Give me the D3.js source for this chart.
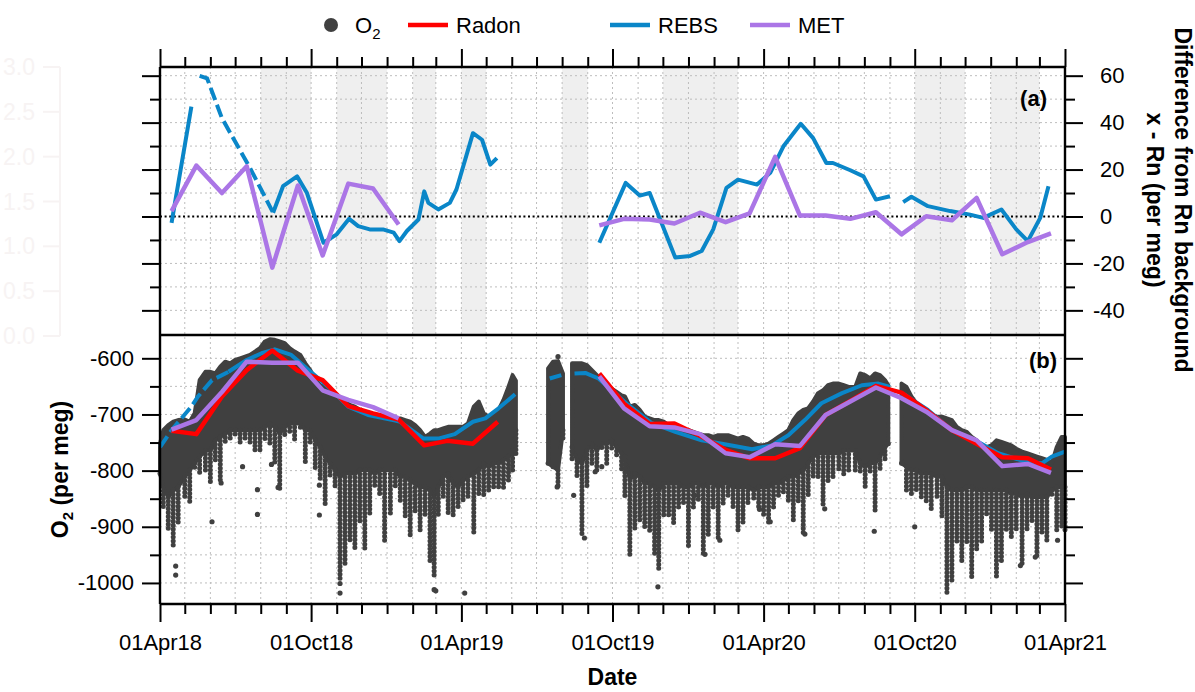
<!DOCTYPE html>
<html>
<head>
<meta charset="utf-8">
<script src="https://cdn.jsdelivr.net/npm/d3@7"></script>
<style>
  html, body { margin: 0; padding: 0; background: #fff; }
  body { font-family: "Liberation Sans", Arial, sans-serif; }
</style>
</head>
<body>
<svg id="chart" width="1195" height="692"></svg>
<script>
// ---- data ----
// monthly means, per meg
const radonO2 = [
  ["2018-04-15", -729], ["2018-05-15", -735], ["2018-06-15", -668], ["2018-07-15", -621],
  ["2018-08-15", -586], ["2018-09-15", -622], ["2018-10-15", -639], ["2018-11-15", -685],
  ["2018-12-15", -698], ["2019-01-15", -709], ["2019-02-15", -755], ["2019-03-15", -747],
  ["2019-04-15", -752], ["2019-05-15", -713], ["2019-07-01", null],
  ["2019-09-15", -627], ["2019-10-15", -681], ["2019-11-15", -717], ["2019-12-15", -716],
  ["2020-01-15", -738], ["2020-02-15", -763], ["2020-03-15", -778], ["2020-04-15", -778],
  ["2020-05-15", -760], ["2020-06-15", -701], ["2020-07-15", -676], ["2020-08-15", -649],
  ["2020-09-15", -661], ["2020-10-15", -692], ["2020-11-15", -728], ["2020-12-15", -752],
  ["2021-01-15", -776], ["2021-02-15", -778], ["2021-03-15", -798]
];
const metO2 = [
  ["2018-04-15", -727], ["2018-05-15", -710], ["2018-06-15", -660], ["2018-07-15", -606],
  ["2018-08-15", -608], ["2018-09-15", -608], ["2018-10-15", -657], ["2018-11-15", -674],
  ["2018-12-15", -687], ["2019-01-15", -707], ["2019-05-01", null],
  ["2019-09-15", -632], ["2019-10-15", -689], ["2019-11-15", -721], ["2019-12-15", -723],
  ["2020-01-15", -735], ["2020-02-15", -769], ["2020-03-15", -776], ["2020-04-15", -753],
  ["2020-05-15", -756], ["2020-06-15", -701], ["2020-07-15", -677], ["2020-08-15", -652],
  ["2020-09-15", -671], ["2020-10-15", -695], ["2020-11-15", -728], ["2020-12-15", -746],
  ["2021-01-15", -792], ["2021-02-15", -788], ["2021-03-15", -804]
];
const metDiff = [
  ["2018-04-15", 2.3], ["2018-05-15", 21.7], ["2018-06-15", 10], ["2018-07-15", 21.4],
  ["2018-08-15", -21.8], ["2018-09-15", 13.2], ["2018-10-15", -16.6], ["2018-11-15", 14],
  ["2018-12-15", 11.9], ["2019-01-15", -3.4], ["2019-05-01", null],
  ["2019-09-15", -3.8], ["2019-10-15", -1], ["2019-11-15", -1.3], ["2019-12-15", -3],
  ["2020-01-15", 1.6], ["2020-02-15", -2.4], ["2020-03-15", 1.3], ["2020-04-15", 25.4],
  ["2020-05-15", 0.4], ["2020-06-15", 0.4], ["2020-07-15", -1], ["2020-08-15", 1.8],
  ["2020-09-15", -7.6], ["2020-10-15", 0.1], ["2020-11-15", -1.6], ["2020-12-15", 7.9],
  ["2021-01-15", -16.1], ["2021-02-15", -10.9], ["2021-03-15", -7.2]
];
// smoothed REBS background
const rebsO2 = [
  ["2018-04-01", -758], ["2018-04-15", -728], ["2018-05-09", -686], ["2018-05-17", -668],
  ["2018-06-03", -639], ["2018-06-23", -624], ["2018-07-15", -603], ["2018-08-02", -591],
  ["2018-08-18", -584], ["2018-09-07", -594], ["2018-09-28", -621], ["2018-10-22", -651],
  ["2018-11-15", -686], ["2018-12-09", -701], ["2019-01-11", -711], ["2019-01-17", -713],
  ["2019-02-14", -743], ["2019-03-04", -743], ["2019-03-24", -735], ["2019-04-15", -713],
  ["2019-04-30", -707], ["2019-05-16", -689], ["2019-06-05", -664], ["2019-06-20", null],
  ["2019-07-17", -636], ["2019-07-31", -630], ["2019-08-08", null],
  ["2019-08-16", -627], ["2019-08-29", -626], ["2019-09-14", -636], ["2019-10-04", -662],
  ["2019-10-20", -683], ["2019-11-17", -715], ["2019-12-16", -731], ["2020-01-17", -746],
  ["2020-02-14", -753], ["2020-03-18", -762], ["2020-04-11", -755], ["2020-05-01", -737],
  ["2020-05-21", -710], ["2020-06-10", -680], ["2020-07-05", -662], ["2020-07-29", -648],
  ["2020-08-18", -645], ["2020-09-01", -651], ["2020-09-09", null], ["2020-09-19", -665],
  ["2020-10-17", -692], ["2020-11-15", -728], ["2020-12-17", -749], ["2021-01-10", -769],
  ["2021-02-12", -784], ["2021-03-04", -787], ["2021-03-16", -775], ["2021-04-01", -766]
];
const rebsDiff = [
  ["2018-04-15", -2.7], ["2018-05-09", 46.8], ["2018-05-14", null], ["2018-05-19", 59.9],
  ["2018-05-28", 58.9], ["2018-06-15", 41.9], ["2018-07-19", 20.7], ["2018-08-16", 1.6],
  ["2018-08-28", 12.9], ["2018-09-14", 17.1], ["2018-09-26", 10], ["2018-10-16", -11.2],
  ["2018-11-01", -7.6], ["2018-11-16", -1], ["2018-11-27", -4.1], ["2018-12-11", -5.5],
  ["2018-12-27", -5.5], ["2019-01-09", -6.9], ["2019-01-16", -10.5], ["2019-01-25", -6.2],
  ["2019-02-08", -1.3], ["2019-02-15", 10.7], ["2019-02-20", 5.8], ["2019-03-04", 3],
  ["2019-03-18", 5.8], ["2019-03-26", 11.5], ["2019-04-15", 35.5], ["2019-04-26", 32.7],
  ["2019-05-06", 22.1], ["2019-05-14", 24.9], ["2019-07-01", null],
  ["2019-09-15", -11.2], ["2019-10-17", 14.3], ["2019-11-03", 8.9], ["2019-11-15", 10],
  ["2019-12-16", -17.5], ["2020-01-03", -16.8], ["2020-01-17", -14.7], ["2020-01-31", -5.5],
  ["2020-02-16", 12.2], ["2020-03-01", 15.7], ["2020-03-24", 13.6], ["2020-04-09", 18.6],
  ["2020-04-25", 29.9], ["2020-05-16", 39.5], ["2020-05-31", 33.4], ["2020-06-16", 22.8],
  ["2020-06-24", 22.8], ["2020-07-15", 19.7], ["2020-07-31", 17.1], ["2020-08-15", 7.2],
  ["2020-09-01", 8.6], ["2020-09-09", null], ["2020-09-17", 6.1], ["2020-09-27", 8.4],
  ["2020-10-17", 4.4], ["2020-11-13", 2.3], ["2020-12-07", 0.8], ["2020-12-23", -0.6],
  ["2021-01-14", 3], ["2021-02-01", -5.5], ["2021-02-15", -10.5], ["2021-03-02", -0.6],
  ["2021-03-12", 12.9]
];
// stretch of the REBS curve that is drawn broken (sparse data)
const rebsSparseTop = ["2018-05-19", "2018-08-16"];
const rebsSparseBot = ["2018-04-01", "2018-06-23"];

// O2 observations summarised per ~6 days:
// [days since 01Apr18, highest value, bottom of dense band, lowest value of the streak]
const o2Cols = [
  [0, -752, -805, -811], [4, -728, -829, -870], [10, -719, -847, -906], [16, -713, -835, -936],
  [22, -710, -829, -894], [30, -709, -811, -847], [36, -713, -799, -859], [42, -698, -787, -799],
  [48, -639, -775, -805], [55, -624, -764, -799], [61, -624, -764, -820], [67, -627, -746, -787],
  [73, -615, -740, -823], [79, -606, -734, -752], [85, -609, -728, -746], [91, -603, -728, -740],
  [97, -600, -728, -752], [103, -597, -728, -746], [109, -594, -728, -752], [115, -588, -728, -764],
  [121, -582, -728, -764], [127, -570, -722, -746], [133, -566, -716, -752], [139, -567, -722, -787],
  [145, -570, -734, -835], [151, -573, -722, -740], [157, -582, -716, -734], [163, -588, -716, -746],
  [170, -594, -716, -728], [176, -609, -728, -787], [182, -621, -728, -752], [188, -639, -746, -799],
  [194, -648, -758, -817], [200, -651, -775, -865], [206, -660, -787, -811], [212, -666, -799, -829],
  [218, -671, -811, -995], [224, -677, -805, -965], [230, -683, -805, -930], [236, -686, -805, -942],
  [242, -692, -799, -894], [248, -695, -799, -942], [254, -698, -799, -882], [260, -701, -805, -829],
  [266, -703, -799, -847], [272, -705, -799, -930], [279, -707, -799, -882], [285, -709, -799, -829],
  [291, -707, -811, -859], [297, -710, -811, -882], [303, -713, -817, -918], [309, -719, -823, -876],
  [315, -728, -829, -906], [321, -740, -829, -882], [327, -734, -835, -965], [332, -728, -847, -992],
  [337, -728, -829, -882], [343, -725, -811, -847], [349, -722, -805, -876], [355, -722, -823, -882],
  [361, -722, -829, -870], [367, -722, -817, -858], [373, -716, -811, -847], [380, -686, -805, -912],
  [386, -677, -799, -847], [392, -698, -787, -847], [398, -704, -793, -841], [404, -701, -787, -829],
  [410, -692, -787, -829], [416, -674, -781, -835], [422, -651, -775, -823], [427, -630, -764, -805],
  [431, -640, -728, -775], [450, null, null, null],
  [470, -618, -787, -793], [476, -606, -793, -799], [482, -605, -799, -829], [488, -627, -728, -746],
  [494, null, null, null],
  [499, -609, -758, -781], [505, -609, -781, -811], [511, -609, -787, -918], [517, -612, -764, -829],
  [523, -621, -752, -787], [529, -630, -764, -799], [535, -639, -752, -764], [541, -648, -752, -787],
  [547, -654, -746, -764], [553, -660, -758, -775], [559, -666, -769, -799], [563, -668, -775, -847],
  [569, -686, -817, -954], [575, -683, -805, -906], [581, -692, -811, -894], [587, -704, -823, -906],
  [593, -707, -823, -912], [599, -710, -829, -954], [604, -710, -835, -977], [610, -713, -823, -882],
  [616, -719, -823, -882], [622, -722, -823, -894], [628, -725, -823, -870], [634, -728, -829, -858],
  [640, -728, -829, -936], [646, -731, -823, -870], [652, -734, -823, -853], [658, -737, -829, -948],
  [664, -737, -823, -918], [670, -740, -823, -870], [676, -737, -829, -924], [682, -737, -823, -859],
  [688, -737, -823, -847], [694, -740, -829, -870], [700, -743, -829, -906], [706, -740, -829, -894],
  [712, -743, -829, -858], [719, -752, -835, -853], [725, -755, -829, -870], [731, -755, -829, -882],
  [737, -752, -829, -894], [743, -746, -823, -870], [749, -740, -823, -847], [755, -734, -817, -841],
  [761, -728, -811, -859], [767, -710, -811, -888], [773, -698, -805, -859], [779, -692, -799, -912],
  [785, -689, -787, -847], [791, -677, -775, -811], [797, -662, -769, -811], [803, -657, -769, -865],
  [809, -648, -769, -823], [815, -645, -769, -811], [822, -645, -769, -799], [828, -648, -764, -811],
  [834, -651, -764, -805], [842, -651, -764, -799], [848, -627, -787, -805], [854, -630, -793, -829],
  [860, -636, -787, -805], [866, -627, -787, -876], [872, -630, -775, -799], [878, -639, -758, -781],
  [882, -648, -752, -758], [890, null, null, null],
  [898, -645, -787, -793], [904, -651, -793, -835], [910, -668, -799, -847], [916, -680, -799, -835],
  [922, -689, -805, -847], [928, -695, -805, -859], [934, -701, -805, -870], [941, -704, -811, -847],
  [947, -704, -811, -882], [953, -707, -829, -1019], [959, -710, -835, -995], [965, -722, -835, -930],
  [971, -728, -835, -966], [977, -731, -829, -930], [983, -740, -829, -995], [989, -746, -835, -942],
  [995, -758, -835, -930], [1001, -758, -835, -882], [1007, -755, -835, -906], [1013, -746, -835, -992],
  [1019, -749, -835, -966], [1025, -752, -835, -906], [1031, -755, -841, -918], [1037, -761, -841, -906],
  [1044, -766, -847, -966], [1050, -769, -841, -906], [1056, -772, -847, -894], [1062, -775, -847, -954],
  [1068, -778, -847, -912], [1074, -781, -847, -924], [1080, -787, -835, -847], [1086, -758, -829, -906],
  [1092, -740, -829, -900], [1096, -740, -829, -906]
];
// isolated O2 points: [days since 01Apr18, value]
const o2Outliers = [
  [19, -970], [19, -986], [63, -891], [74, -822], [100, -793], [118, -878], [118, -834],
  [135, -789], [143, -830], [193, -879], [193, -826], [218, -1001], [218, -1018],
  [332, -1012], [334, -1014], [369, -1018], [481, -829], [482, -597], [501, -844],
  [514, -920], [527, -802], [535, -793], [603, -1007], [648, -844], [660, -949],
  [678, -924], [726, -869], [739, -891], [781, -913], [805, -868], [865, -908],
  [914, -900], [1042, -969], [1060, -954], [1087, -924]
];
// grey shaded periods in panel (a)
const shadeStart = ["2018-08-01", "2018-11-01", "2019-02-01", "2019-04-01", "2019-08-01", "2019-12-01", "2020-10-01", "2021-01-01"];
const shadeEnd   = ["2018-10-01", "2019-01-01", "2019-03-01", "2019-05-01", "2019-09-01", "2020-03-01", "2020-12-01", "2021-03-01"];
const diffTicks = [-40, -20, 0, 20, 40, 60];
const diffMinor = [-30, -10, 10, 30, 50];
const o2Ticks = [-1000, -900, -800, -700, -600];
const o2Minor = [-950, -850, -750, -650];
const ghostTicks = [0, 0.5, 1, 1.5, 2, 2.5, 3];

// ---- layout ----
const svg = d3.select("#chart");
const L = 160, R = 1065, T = 67, MID = 335, B = 604;
const FONT = "'Liberation Sans', Arial, sans-serif";
const FS = 22;
const C_DOT = "#404040", C_RED = "#ff0000", C_BLUE = "#0a86c8", C_PURPLE = "#ab76e6";

const parse = d3.utcParse("%Y-%m-%d");
const t0 = parse("2018-04-01"), t1 = parse("2021-04-01");
const x = d3.scaleUtc().domain([t0, t1]).range([L, R]);
const yTop = d3.scaleLinear().domain([-50.5, 63.7]).range([MID, T]);
const yBot = d3.scaleLinear().domain([-1037.5, -558.5]).range([B, MID]);
const gx = i => x(d3.utcDay.offset(t0, i));

const months = d3.utcMonth.range(t0, d3.utcDay.offset(t1, 1));
const isMajor = d => d.getUTCMonth() === 3 || d.getUTCMonth() === 9;

// faint leftover axis at the far left
const ghost = d3.scaleLinear().domain([0, 3]).range([MID + 1, T]);
const gg = svg.append("g").attr("stroke", "#f7f3f3").attr("fill", "#f7f3f3");
gg.append("line").attr("x1", 60).attr("x2", 60).attr("y1", T).attr("y2", MID + 1).attr("stroke-width", 2);
ghostTicks.forEach(v => {
  gg.append("line").attr("x1", 43).attr("x2", 60).attr("y1", ghost(v)).attr("y2", ghost(v)).attr("stroke-width", 2);
  gg.append("text").attr("x", 35).attr("y", ghost(v) + 8).attr("text-anchor", "end")
    .attr("stroke", "none").attr("font-family", FONT).attr("font-size", 23).text(v.toFixed(1));
});

// shading
svg.append("g").selectAll("rect").data(shadeStart).join("rect")
  .attr("x", (d) => x(parse(d)))
  .attr("width", (d, i) => x(parse(shadeEnd[i])) - x(parse(d)))
  .attr("y", T).attr("height", MID - T)
  .attr("fill", "#efefef");

// grids
const grid = svg.append("g").attr("stroke", "#bdbdbd").attr("stroke-width", 1).attr("stroke-dasharray", "2 3");
months.filter(d => +d > +t0 && +d < +t1).forEach(d => {
  grid.append("line").attr("x1", x(d)).attr("x2", x(d)).attr("y1", T).attr("y2", B);
});
d3.range(-40, 61, 10).filter(v => v !== 0).forEach(v => {
  grid.append("line").attr("x1", L).attr("x2", R).attr("y1", yTop(v)).attr("y2", yTop(v));
});
d3.range(-1000, -599, 50).forEach(v => {
  grid.append("line").attr("x1", L).attr("x2", R).attr("y1", yBot(v)).attr("y2", yBot(v));
});

// zero line
svg.append("line").attr("x1", L).attr("x2", R).attr("y1", yTop(0)).attr("y2", yTop(0))
  .attr("stroke", "#000").attr("stroke-width", 2.2).attr("stroke-dasharray", "2 2.6");

// REBS curve: solid except a sparse stretch drawn broken
function drawRebs(data, yScale, sparse) {
  const a = +parse(sparse[0]), b = +parse(sparse[1]);
  const inSparse = d => { const t = +parse(d[0]); return t >= a && t <= b; };
  const inner = d => { const t = +parse(d[0]); return t > a && t < b; };
  const line = d3.line().defined(d => d[1] != null).x(d => x(parse(d[0]))).y(d => yScale(d[1]));
  svg.append("path")
    .attr("d", line(data.map(d => inner(d) ? [d[0], null] : d)))
    .attr("fill", "none").attr("stroke", C_BLUE).attr("stroke-width", 4).attr("stroke-linejoin", "round");
  svg.append("path")
    .attr("d", line(data.filter(inSparse)))
    .attr("fill", "none").attr("stroke", C_BLUE).attr("stroke-width", 4)
    .attr("stroke-dasharray", "13 5");
}

// ---- panel (a) ----
const lineTop = d3.line().defined(d => d[1] != null).x(d => x(parse(d[0]))).y(d => yTop(d[1]));
drawRebs(rebsDiff, yTop, rebsSparseTop);
svg.append("path").attr("d", lineTop(metDiff)).attr("fill", "none")
  .attr("stroke", C_PURPLE).attr("stroke-width", 4.5).attr("stroke-linejoin", "round");

// ---- panel (b) ----
const cloud = svg.append("g");
const body = d3.area().defined(d => d[1] != null)
  .x(d => gx(d[0])).y0(d => yBot(d[2])).y1(d => yBot(d[1]));
cloud.append("path").attr("d", body(o2Cols)).attr("fill", C_DOT)
  .attr("stroke", C_DOT).attr("stroke-width", 4).attr("stroke-linejoin", "round");
cloud.selectAll("line.streak").data(o2Cols.filter(d => d[1] != null && d[3] < d[2] - 2)).join("line")
  .attr("class", "streak")
  .attr("x1", d => gx(d[0])).attr("x2", d => gx(d[0]))
  .attr("y1", d => yBot(d[2])).attr("y2", d => yBot(d[3]))
  .attr("stroke", C_DOT).attr("stroke-width", 5).attr("stroke-linecap", "round")
  .attr("stroke-dasharray", "0 3.9");
cloud.selectAll("circle").data(o2Outliers).join("circle")
  .attr("cx", d => gx(d[0])).attr("cy", d => yBot(d[1])).attr("r", 2.6).attr("fill", C_DOT);

const lineBot = d3.line().defined(d => d[1] != null).x(d => x(parse(d[0]))).y(d => yBot(d[1]));
drawRebs(rebsO2, yBot, rebsSparseBot);
svg.append("path").attr("d", lineBot(radonO2)).attr("fill", "none")
  .attr("stroke", C_RED).attr("stroke-width", 4.5).attr("stroke-linejoin", "round");
svg.append("path").attr("d", lineBot(metO2)).attr("fill", "none")
  .attr("stroke", C_PURPLE).attr("stroke-width", 4.5).attr("stroke-linejoin", "round");

// ---- frame and axes ----
const frame = svg.append("g").attr("stroke", "#000").attr("stroke-width", 2.4);
[[L, T, R, T], [L, MID, R, MID], [L, B, R, B], [L, T, L, B], [R, T, R, B]].forEach(s => {
  frame.append("line").attr("x1", s[0]).attr("y1", s[1]).attr("x2", s[2]).attr("y2", s[3]);
});

function styleAxis(g) {
  g.select(".domain").remove();
  g.selectAll(".tick line").attr("stroke", "#000").attr("stroke-width", 2);
  g.selectAll("text").attr("fill", "#000").attr("font-family", FONT).attr("font-size", FS);
  g.attr("font-family", FONT);
}
function addAxis(axis, tx, ty) {
  return svg.append("g").attr("transform", `translate(${tx},${ty})`).call(axis).call(styleAxis);
}

// x
addAxis(d3.axisBottom(x).tickValues(months.filter(isMajor)).tickSize(18).tickSizeOuter(0)
  .tickPadding(12).tickFormat(d3.utcFormat("%d%b%y")), 0, B);
addAxis(d3.axisBottom(x).tickValues(months.filter(d => !isMajor(d))).tickSize(10).tickSizeOuter(0).tickFormat(""), 0, B);
addAxis(d3.axisTop(x).tickValues(months.filter(isMajor)).tickSize(18).tickSizeOuter(0).tickFormat(""), 0, T);
addAxis(d3.axisTop(x).tickValues(months.filter(d => !isMajor(d))).tickSize(10).tickSizeOuter(0).tickFormat(""), 0, T);

// panel (a) y
addAxis(d3.axisLeft(yTop).tickValues(diffTicks).tickSize(18).tickSizeOuter(0).tickFormat(""), L, 0);
addAxis(d3.axisLeft(yTop).tickValues(diffMinor).tickSize(10).tickSizeOuter(0).tickFormat(""), L, 0);
const rightA = addAxis(d3.axisRight(yTop).tickValues(diffTicks).tickSize(18).tickSizeOuter(0).tickPadding(17).tickFormat(d3.format("d")), R, 0);
rightA.selectAll("text").attr("dx", d => d < 0 ? -7 : 0).text(d => d < 0 ? "-" + Math.abs(d) : d);
addAxis(d3.axisRight(yTop).tickValues(diffMinor).tickSize(10).tickSizeOuter(0).tickFormat(""), R, 0);

// panel (b) y
const leftB = addAxis(d3.axisLeft(yBot).tickValues(o2Ticks).tickSize(18).tickSizeOuter(0).tickPadding(8), L, 0);
leftB.selectAll("text").text(d => "-" + Math.abs(d));
addAxis(d3.axisLeft(yBot).tickValues(o2Minor).tickSize(10).tickSizeOuter(0).tickFormat(""), L, 0);
addAxis(d3.axisRight(yBot).tickValues(o2Ticks).tickSize(18).tickSizeOuter(0).tickFormat(""), R, 0);
addAxis(d3.axisRight(yBot).tickValues(o2Minor).tickSize(10).tickSizeOuter(0).tickFormat(""), R, 0);

// ---- labels ----
const label = (xx, yy, txt, opts = {}) => svg.append("text").attr("x", xx).attr("y", yy)
  .attr("font-family", FONT).attr("font-size", opts.size || FS)
  .attr("font-weight", opts.bold ? "bold" : "normal")
  .attr("text-anchor", opts.anchor || "start").text(txt);

label(1047, 106, "(a)", { bold: true, anchor: "end", size: 22 });
label(1057, 368, "(b)", { bold: true, anchor: "end", size: 22 });
label((L + R) / 2, 685, "Date", { bold: true, anchor: "middle", size: 23 });

const yTitle = svg.append("text").attr("transform", `translate(68,${(MID + B) / 2}) rotate(-90)`)
  .attr("text-anchor", "middle").attr("font-family", FONT).attr("font-size", 23).attr("font-weight", "bold");
yTitle.append("tspan").text("O");
yTitle.append("tspan").attr("dy", 5).attr("font-size", 15).text("2");
yTitle.append("tspan").attr("dy", -5).text(" (per meg)");

svg.append("text").attr("transform", "translate(1175,200) rotate(90)")
  .attr("text-anchor", "middle").attr("font-family", FONT).attr("font-size", 23).attr("font-weight", "bold")
  .text("Difference from Rn background");
svg.append("text").attr("transform", "translate(1147,200) rotate(90)")
  .attr("text-anchor", "middle").attr("font-family", FONT).attr("font-size", 23).attr("font-weight", "bold")
  .text("x - Rn (per meg)");

// legend
const leg = svg.append("g").attr("font-family", FONT).attr("font-size", FS);
leg.append("circle").attr("cx", 331).attr("cy", 25).attr("r", 7).attr("fill", C_DOT);
const o2t = leg.append("text").attr("x", 355).attr("y", 33);
o2t.append("tspan").text("O");
o2t.append("tspan").attr("dy", 6).attr("font-size", 15).text("2");
const items = [["Radon", C_RED, 408], ["REBS", C_BLUE, 610], ["MET", C_PURPLE, 750]];
items.forEach(([name, col, x0]) => {
  leg.append("line").attr("x1", x0).attr("x2", x0 + 40).attr("y1", 25).attr("y2", 25)
    .attr("stroke", col).attr("stroke-width", 4.5);
  leg.append("text").attr("x", x0 + 48).attr("y", 33).text(name);
});
</script>
</body>
</html>
